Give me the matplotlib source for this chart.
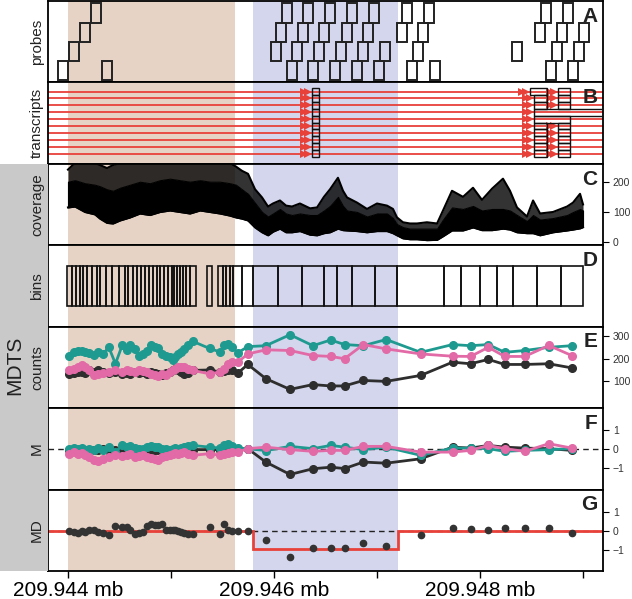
import numpy as np
import matplotlib.pyplot as plt
from matplotlib.patches import Rectangle

plt.rcParams['font.family'] = ['Liberation Sans', 'DejaVu Sans']

start = 209944000  # bp offset origin
xlim = (-194, 5194)
brown_region = (0, 1621)
blue_region = (1796, 3204)

# probes (start in bp from origin, row 0 = bottom)
probe_start = [-97, 10, 117, 223, 330,
               2078, 2282, 2495, 2709, 2922, 3243, 3456,
               2019, 2233, 2437, 2660, 2864, 3194, 3398,
               1971, 2175, 2388, 2602, 2816, 3029, 3350,
               2126, 2330, 2544, 2757, 2971, 3291, 3515,
               4592, 4806, 4534, 4748, 4961, 4311, 4699, 4913, 4641, 4854]
probe_row = [0, 1, 2, 3, 0,
             3, 3, 3, 3, 3, 3, 3,
             2, 2, 2, 2, 2, 2, 2,
             1, 1, 1, 1, 1, 1, 1,
             0, 0, 0, 0, 0, 0, 0,
             3, 3, 2, 2, 2, 1, 1, 1, 0, 0]
probe_len = 100

# transcripts: exons per transcript (10 transcripts)
exon1 = (2369, 2437)
exon2 = (4524, 4650)
exon3 = (4757, 4874)
transcript_exons = [
    [exon1, (4485, 4650), exon3],
    [exon1, exon2, exon3],
    [exon1, exon2, exon3],
    [exon1, (4524, 5400)],
    [exon1, (4524, 4874)],
    [exon1, exon2, exon3],
    [exon1, exon2, exon3],
    [exon1, exon2, exon3],
    [exon1, exon2, exon3],
    [exon1, exon2, exon3],
]

# coverage envelope
cov_pos = [0, 68, 165, 262, 311, 379, 437, 505, 602, 699, 796, 893, 990, 1087, 1184,
           1282, 1379, 1476, 1573, 1631, 1689, 1748, 1816, 1884, 1942, 1990, 2058,
           2117, 2175, 2252, 2350, 2418, 2485, 2544, 2621, 2670, 2709, 2806, 2903,
           3000, 3097, 3155, 3194, 3252, 3320, 3388, 3485, 3583, 3641, 3728, 3835,
           3932, 4019, 4117, 4223, 4291, 4359, 4456, 4515, 4583, 4709, 4845, 4903,
           4971, 5000]
cov_low = [115, 118, 100, 92, 78, 64, 62, 72, 82, 95, 90, 100, 105, 100, 95,
           105, 100, 95, 88, 82, 78, 72, 49, 33, 23, 35, 45,
           33, 33, 37, 25, 23, 30, 33, 45, 40, 39, 37, 33,
           37, 37, 30, 23, 13, 10, 10, 7, 8, 20, 39, 39,
           49, 40, 40, 45, 42, 33, 30, 30, 23, 33, 39, 42,
           46, 50]
cov_mid = [200, 205, 195, 190, 185, 175, 170, 180, 190, 200, 195, 205, 210, 205, 200,
           205, 200, 200, 195, 190, 175, 160, 130, 100, 85, 95, 110,
           95, 90, 95, 90, 90, 105, 120, 150, 120, 105, 100, 85,
           95, 95, 80, 60, 50, 45, 45, 45, 45, 75, 115, 110,
           120, 105, 110, 110, 105, 90, 70, 90, 75, 80, 90, 100,
           110, 105]
cov_high = [240, 262, 262, 262, 255, 245, 255, 262, 262, 262, 262, 262, 262, 262, 262,
            262, 262, 262, 262, 250, 236, 226, 175, 148, 118, 128, 138,
            121, 118, 128, 112, 115, 150, 175, 213, 170, 148, 131, 110,
            128, 121, 110, 82, 66, 62, 62, 66, 62, 105, 170, 150,
            180, 140, 177, 210, 170, 115, 85, 138, 95, 100, 118, 131,
            160, 125]

# bins
bin_groups = [
    [-7, 36, 78, 117, 149, 187, 230, 278, 311, 369, 424, 498, 553, 585, 628, 667,
     706, 748, 790, 828, 861, 893, 932, 974, 1007, 1029, 1055, 1087, 1113, 1146,
     1184, 1240],
    [1347, 1401],
    [1459, 1502, 1534, 1573, 1605, 1692, 1799, 2042, 2269, 2486, 2615, 2754, 2981,
     3197, 3651, 3816, 4000, 4162, 4318, 4551, 4784, 4997],
]

teal_counts = [213, 228, 232, 235, 228, 223, 217, 230, 220, 249, 177, 257, 238, 261, 242, 213,
               220, 235, 257, 249, 246, 220, 213, 206, 194, 206, 220, 228, 242, 257, 275,
               244,
               228, 261, 264, 252, 225, 252, 256, 304, 256, 281, 261, 256, 283, 227, 261,
               256, 261, 227, 235, 249, 256]
pink_counts = [151, 155, 162, 170, 162, 148, 126, 133, 136, 141, 148, 141, 148, 145, 141, 148,
               145, 141, 133, 126, 122, 133, 130, 141, 148, 155, 162, 162, 165, 155, 148,
               133,
               141, 155, 177, 184, 184, 220, 238, 235, 213, 209, 199, 261, 242, 220, 210,
               209, 249, 209, 209, 257, 213]
black_counts = [133, 136, 141, 143, 136, 148, 141, 148, 143, 136, 141, 133, 136, 133, 141, 136,
                141, 133, 141, 136, 133, 130, 136, 141, 148, 155, 148, 141, 133, 136, 148,
                150,
                141, 145, 148, 151, 136, 174, 112, 65, 86, 80, 80, 104, 100, 126, 184,
                177, 196, 174, 174, 177, 159]

teal_m = [0, 0.03, 0, 0.03, -0.05, 0, -0.09, 0.03, -0.05, 0.08, -0.18, 0.17, 0.08, 0.12, 0.03, 0,
          0, 0.08, 0.12, 0.08, 0.08, 0, 0, -0.05, 0, 0.05, 0, 0.03, 0.08, 0.12, 0.17,
          0.08,
          0.03, 0.17, 0.22, 0.12, 0.03, 0, -0.1, 0.12, 0, 0.17, 0.08, -0.05, 0.08, -0.35, 0.03,
          0.03, 0, -0.14, -0.09, -0.05, 0]
pink_m = [-0.26, -0.18, -0.26, -0.23, -0.35, -0.44, -0.58, -0.62, -0.53, -0.44, -0.35, -0.40,
          -0.35, -0.30, -0.44, -0.40, -0.35, -0.44, -0.49, -0.53, -0.58, -0.44, -0.40, -0.35,
          -0.26, -0.23, -0.30, -0.23, -0.18, -0.26, -0.35,
          -0.26,
          -0.35, -0.26, -0.23, -0.18, -0.18, 0.0, 0.08, -0.05, -0.14, -0.09, -0.09, 0.12, 0.12,
          -0.18, -0.18, -0.09, 0.17, 0.0, -0.14, 0.26, 0.03]
black_m = [-0.05, 0, -0.09, -0.05, -0.14, -0.05, -0.09, -0.05, 0, -0.14, -0.09, -0.18, -0.05,
           -0.09, -0.05, -0.09, -0.14, -0.05, -0.09, -0.05, -0.09, -0.14, -0.05, -0.09, -0.05,
           -0.09, -0.05, 0, -0.05, -0.09, -0.05,
           -0.05,
           -0.05, 0, -0.05, 0, 0, 0, -0.7, -1.35, -1.05, -0.97, -1.04, -0.7, -0.76, -0.53, 0.08,
           0.03, 0.17, 0.08, 0.03, 0.0, -0.09]

md = [0.02, -0.03, -0.09, 0, -0.03, 0.05, 0.09, -0.03, -0.09, -0.17, 0.26, 0.23, 0.23, 0.09,
      -0.16, -0.09, -0.03, 0.26, 0.36, 0.31, 0.31, 0.36, 0.09, 0.09, 0.09, 0.05, 0.02, -0.03,
      -0.09, -0.12, -0.16,
      0.23,
      -0.16, 0.36, 0.09, 0.02, 0.02, 0.02, -0.47, -1.37, -0.86, -0.87, -0.9, -0.61, -0.76, -0.17,
      0.17, 0.1, 0.08, 0.17, 0.17, 0.17, -0.07]
md_seg_edges = [-194, 1796, 3204, 5194]
md_seg_values = [0, -0.95, 0]

panel_names = ['probes', 'transcripts', 'coverage', 'bins', 'counts', 'M', 'MD']
panel_letters = ['A', 'B', 'C', 'D', 'E', 'F', 'G']

BROWN = '#e6d3c5'
BLUE = '#d3d6ec'
RED = '#e8413a'
TEAL = '#1f9a90'
PINK = '#e26aa6'
DARK = '#2e2e2e'

bin_start = []
bin_end = []
for g in bin_groups:
    bin_start += g[:-1]
    bin_end += g[1:]
bin_start = np.array(bin_start)
bin_end = np.array(bin_end)
bin_mid = (bin_start + bin_end) / 2

fig = plt.figure(figsize=(6.32, 5.99), dpi=100)
L, R = 48 / 632, 603 / 632
top, bottom = 1 - 1 / 599, 1 - 571 / 599
ph = (top - bottom) / 7

# grey band behind MDTS panels
fig.patches.append(Rectangle((0, bottom), L, ph * 5, transform=fig.transFigure,
                             facecolor='#c9c9c9', edgecolor='none', zorder=0))

axes = []
for i in range(7):
    ax = fig.add_axes([L, top - (i + 1) * ph, R - L, ph])
    ax.set_xlim(*xlim)
    ax.axvspan(*brown_region, color=BROWN, lw=0, zorder=0)
    ax.axvspan(*blue_region, color=BLUE, lw=0, zorder=0)
    for s in ax.spines.values():
        s.set_linewidth(1.3)
    ax.tick_params(axis='x', bottom=False, labelbottom=False)
    ax.yaxis.tick_right()
    ax.tick_params(axis='y', length=4, width=0.8, labelsize=7.5, labelcolor='#333333', pad=3)
    ax.text(0.99, 0.93, panel_letters[i], transform=ax.transAxes, ha='right', va='top',
            fontsize=15, fontweight='bold', color='#222222')
    fig.text(37 / 632, top - (i + 0.5) * ph, panel_names[i], rotation=90,
             ha='center', va='center', fontsize=11, color='#222222')
    axes.append(ax)

fig.text(15 / 632, 1 - 365 / 599, 'MDTS', rotation=90, ha='center', va='center',
         fontsize=15, color='#222222')

# A: probes
ax = axes[0]
ax.set_ylim(0, 4.22)
ax.set_yticks([])
for s, r in zip(probe_start, probe_row):
    ax.add_patch(Rectangle((s, r + 0.1), probe_len, 1.0, facecolor='none',
                           edgecolor='#222222', lw=1.4))

# B: transcripts
ax = axes[1]
ax.set_ylim(10.48, -1.32)
ax.set_yticks([])
for i, exons in enumerate(transcript_exons):
    ax.plot(xlim, [i, i], color=RED, lw=1.3, zorder=2)
    for (a, b) in exons:
        for off in (35, 75):
            ax.plot(a - off, i, marker='>', color=RED, ms=6, mew=0, zorder=3)
        ax.add_patch(Rectangle((a, i - 0.5), b - a, 1.0, facecolor='none',
                               edgecolor='#111111', lw=1.0, zorder=4))

# C: coverage
ax = axes[2]
ax.set_ylim(-10, 259)
ax.set_yticks([0, 100, 200])
ax.fill_between(cov_pos, cov_low, cov_mid, color='black', lw=0.8, zorder=2)
ax.fill_between(cov_pos, cov_mid, cov_high, color='black', alpha=0.8, lw=0, zorder=2)
ax.plot(cov_pos, cov_high, color='black', lw=1.5, zorder=3)
ax.plot(cov_pos, cov_low, color='black', lw=1.5, zorder=3)

# D: bins
ax = axes[3]
ax.set_ylim(0, 1)
ax.set_yticks([])
for a, b in zip(bin_start, bin_end):
    ax.add_patch(Rectangle((a, 0.26), b - a, 0.48, facecolor='none',
                           edgecolor='#111111', lw=1.2))

# E: counts
ax = axes[4]
ax.set_ylim(-17, 339)
ax.set_yticks([100, 200, 300])
for vals, c in [(black_counts, DARK), (teal_counts, TEAL), (pink_counts, PINK)]:
    ax.plot(bin_mid, vals, '-o', color=c, lw=2, ms=5.5, zorder=3)

# F: M
ax = axes[5]
ax.set_ylim(-2.14, 2.12)
ax.set_yticks([-1, 0, 1])
ax.set_yticklabels(['\u22121', '0', '1'])
ax.axhline(0, color='#222222', lw=1, ls=(0, (4, 3)), zorder=1)
for vals, c in [(black_m, DARK), (teal_m, TEAL), (pink_m, PINK)]:
    ax.plot(bin_mid, vals, '-o', color=c, lw=2, ms=5.5, zorder=3)

# G: MD
ax = axes[6]
ax.set_ylim(-2.08, 2.19)
ax.set_yticks([-1, 0, 1])
ax.set_yticklabels(['\u22121', '0', '1'])
ax.axhline(0, color='#222222', lw=1, ls=(0, (4, 3)), zorder=1)
ax.stairs(md_seg_values, md_seg_edges, color=RED, lw=2, baseline=None, zorder=2)
ax.plot(bin_mid, md, 'o', color='#333333', ms=4.5, zorder=3)
ticks = np.arange(0, 5001, 1000)
ax.set_xticks(ticks)
ax.set_xticklabels([f'{(start + t) / 1e6:.3f} mb' if t % 2000 == 0 else '' for t in ticks])
ax.tick_params(axis='x', bottom=True, labelbottom=True, length=5, width=1,
               labelsize=15, pad=2)

fig.savefig('out.png', dpi=100)
